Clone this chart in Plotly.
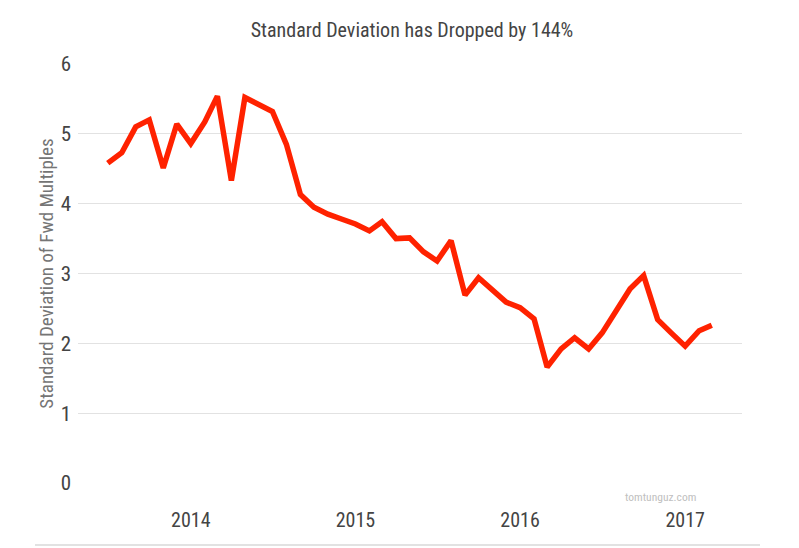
import pandas as pd
import plotly.graph_objects as go

dates = pd.date_range("2013-07-01", periods=45, freq="MS")
values = [4.58, 4.73, 5.10, 5.20, 4.51, 5.14, 4.86, 5.17, 5.54, 4.33,
          5.52, 5.42, 5.32, 4.85, 4.13, 3.95, 3.85, 3.78, 3.71, 3.61,
          3.74, 3.50, 3.51, 3.31, 3.18, 3.47, 2.69, 2.94, 2.75, 2.59,
          2.51, 2.35, 1.66, 1.92, 2.08, 1.92, 2.15, 2.48, 2.78, 2.97,
          2.34, 2.15, 1.96, 2.18, 2.26]
year_ticks = ["2014-01-01", "2015-01-01", "2016-01-01", "2017-01-01"]
year_labels = ["2014", "2015", "2016", "2017"]
y_ticks = [0, 1, 2, 3, 4, 5, 6]

FONT = "Roboto Condensed, Liberation Sans Narrow, DejaVu Sans Condensed, Roboto, sans-serif"

# page body has an 8px margin; lay out in page coordinates minus 8
W, H = 791, 540
L, R, T, B = 70, 57, 56, 65
PW, PH = W - L - R, H - T - B

fig = go.Figure()
fig.add_trace(go.Scatter(x=dates, y=values, mode="lines",
                         line=dict(color="#ff2200", width=5.5),
                         hoverinfo="skip", showlegend=False))

fig.update_layout(
    width=W, height=H,
    margin=dict(l=L, r=R, t=T, b=B),
    paper_bgcolor="white", plot_bgcolor="white",
    font=dict(family=FONT, color="#444444"),
    title=dict(text="Standard Deviation has Dropped by 144%",
               x=404 / W, xanchor="center", y=1 - 22 / H, yanchor="middle",
               font=dict(family=FONT, size=20, color="#444444")),
    xaxis=dict(range=["2013-04-26", "2017-05-07"], type="date",
               tickvals=year_ticks, ticktext=year_labels,
               showgrid=False, zeroline=False, showline=False, ticks="",
               tickfont=dict(family=FONT, size=20, color="#444444"),
               ticklabelstandoff=23),
    yaxis=dict(range=[0, 6], tickvals=y_ticks,
               showgrid=True, gridcolor="#e2e2e2", gridwidth=1,
               zeroline=False, showline=False, ticks="",
               tickfont=dict(family=FONT, size=21, color="#444444"),
               ticklabelstandoff=6,
               title=dict(text="Standard Deviation of Fwd Multiples", standoff=1,
                          font=dict(family=FONT, size=19, color="#757575"))),
    annotations=[dict(text="tomtunguz.com", xref="paper", yref="paper",
                      x=(652 - L) / PW, y=(T + PH - 489) / PH,
                      xanchor="center", yanchor="middle", showarrow=False,
                      font=dict(family=FONT, size=11.5, color="#c0c0c0"))],
    shapes=[dict(type="line", xref="paper", yref="paper",
                 x0=(27 - L) / PW, x1=(752 - L) / PW,
                 y0=(T + PH - 537) / PH, y1=(T + PH - 537) / PH,
                 line=dict(color="#d8d8d8", width=1.5))],
)

fig.write_html("out.html")
